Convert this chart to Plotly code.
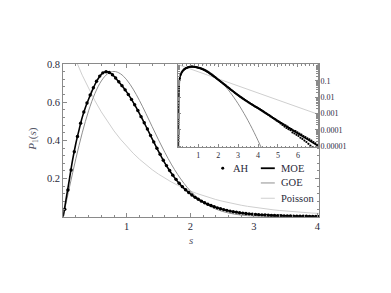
import plotly.graph_objects as go

# ---------------- data ----------------
moe_s = [0.00, 0.05, 0.10, 0.15, 0.20, 0.25, 0.30, 0.35, 0.40, 0.45, 0.50, 0.55, 0.60, 0.65,
         0.70, 0.75, 0.80, 0.85, 0.90, 0.95, 1.00, 1.05, 1.10, 1.15, 1.20, 1.25, 1.30, 1.35,
         1.40, 1.45, 1.50, 1.55, 1.60, 1.65, 1.70, 1.75, 1.80, 1.85, 1.90, 1.95, 2.00, 2.10,
         2.20, 2.30, 2.40, 2.50, 2.60, 2.70, 2.80, 2.90, 3.00, 3.20, 3.40, 3.60, 3.80, 4.00,
         4.50, 5.00, 5.50, 6.00, 6.50, 7.00]
moe_p = [0.000, 0.100, 0.200, 0.300, 0.385, 0.455, 0.520, 0.572, 0.615, 0.655, 0.692, 0.722,
         0.745, 0.757, 0.758, 0.750, 0.735, 0.716, 0.696, 0.675, 0.652, 0.627, 0.600, 0.571,
         0.540, 0.508, 0.475, 0.442, 0.408, 0.375, 0.342, 0.311, 0.281, 0.254, 0.229, 0.206,
         0.185, 0.166, 0.149, 0.134, 0.120, 0.097, 0.078, 0.062, 0.050, 0.040, 0.032, 0.0255,
         0.0205, 0.0165, 0.0135, 0.0090, 0.0062, 0.0044, 0.0031, 0.0022, 0.00088, 0.00035,
         0.000145, 0.00006, 0.000025, 0.0000105]

ah_s = [0.025, 0.075, 0.125, 0.175, 0.225, 0.275, 0.325, 0.375, 0.425, 0.475, 0.525, 0.575,
        0.625, 0.675, 0.725, 0.775, 0.825, 0.875, 0.925, 0.975, 1.025, 1.075, 1.125, 1.175,
        1.225, 1.275, 1.325, 1.375, 1.425, 1.475, 1.525, 1.575, 1.625, 1.675, 1.725, 1.775,
        1.825, 1.875, 1.925, 1.975, 2.025, 2.075, 2.125, 2.175, 2.225, 2.275, 2.325, 2.375,
        2.425, 2.475, 2.525, 2.575, 2.625, 2.675, 2.725, 2.775, 2.825, 2.875, 2.925, 2.975,
        3.025, 3.075, 3.125, 3.175, 3.225, 3.275, 3.325, 3.375, 3.425, 3.475, 3.525, 3.575,
        3.625, 3.675, 3.725, 3.775, 3.825, 3.875, 3.925, 3.975, 4.025, 4.075, 4.125, 4.175,
        4.225, 4.275, 4.325, 4.375, 4.425, 4.475, 4.525, 4.575, 4.625, 4.675, 4.725, 4.775,
        4.825, 4.875, 4.925, 4.975, 5.025, 5.075, 5.125, 5.175, 5.225, 5.275, 5.325, 5.375,
        5.425, 5.475, 5.525, 5.575, 5.625, 5.675, 5.725, 5.775, 5.825, 5.875, 5.925, 5.975,
        6.025, 6.075, 6.125, 6.175, 6.225, 6.275, 6.325, 6.375, 6.425, 6.475, 6.525, 6.575,
        6.625, 6.675, 6.725, 6.775, 6.825, 6.875, 6.925, 6.975]
ah_p = [0.04, 0.14, 0.245, 0.34, 0.42, 0.49, 0.548, 0.595, 0.637, 0.675, 0.709, 0.736,
        0.753, 0.759, 0.755, 0.743, 0.726, 0.706, 0.686, 0.664, 0.640, 0.614, 0.586, 0.556,
        0.524, 0.492, 0.459, 0.425, 0.392, 0.359, 0.327, 0.296, 0.268, 0.242, 0.218, 0.196,
        0.176, 0.158, 0.142, 0.127, 0.114, 0.102, 0.092, 0.082, 0.074, 0.066, 0.059, 0.053,
        0.047, 0.042, 0.038, 0.034, 0.030, 0.027, 0.0245, 0.0218, 0.0195, 0.0175, 0.0157, 0.0141,
        0.0127, 0.0115, 0.0104, 0.0094, 0.0085, 0.0077, 0.0070, 0.0064, 0.0058, 0.0053, 0.0048, 0.0044,
        0.0040, 0.0037, 0.0034, 0.0031, 0.0028, 0.0026, 0.0024, 0.0022, 0.00205, 0.00187, 0.0017, 0.00156,
        0.00142, 0.0013, 0.00118, 0.00108, 0.00098, 0.0009, 0.00082, 0.00075, 0.00066, 0.00063, 0.00055, 0.00052,
        0.00045, 0.00044, 0.00037, 0.00036, 0.00031, 0.00031, 0.00025, 0.00026, 0.0002, 0.00022, 0.00016, 0.00019,
        0.00013, 0.00016, 0.00011, 0.00013, 0.000095, 0.00011, 0.00007, 0.00009, 0.00006, 0.000085, 0.00005, 0.00007,
        0.000042, 0.00006, 0.000033, 0.000052, 0.000028, 0.000042, 0.000022, 0.000036, 0.000018, 0.00003, 0.000014, 0.000026,
        0.000011, 0.000022, 0.0000085, 0.000018, 0.000007, 0.000015, 0.000006, 0.000012]

goe_s = [0.0, 0.1, 0.2, 0.3, 0.4, 0.5, 0.6, 0.7, 0.8, 0.9, 1.0, 1.1, 1.2, 1.3, 1.4, 1.5,
         1.6, 1.7, 1.8, 1.9, 2.0, 2.1, 2.2, 2.3, 2.4, 2.5, 2.6, 2.7, 2.8, 2.9, 3.0, 3.1,
         3.2, 3.3, 3.4, 3.5, 3.6, 3.7, 3.8, 3.9, 4.0, 4.1, 4.2, 4.3]
goe_p = [0.0, 0.1559, 0.3044, 0.4391, 0.5541, 0.6454, 0.7104, 0.7483, 0.7602, 0.7483,
         0.7162, 0.6680, 0.6083, 0.5415, 0.4717, 0.4025, 0.3365, 0.2759, 0.2220, 0.1752,
         0.1358, 0.1033, 0.0772, 0.0567, 0.04088, 0.02899, 0.02020, 0.01383, 0.009314,
         0.006167, 0.004012, 0.002568, 0.001616, 0.001000, 0.000609, 0.0003644, 0.0002147,
         0.0001244, 0.0000709, 0.00003975, 0.00002191, 0.00001188, 0.00000635, 0.00000333]

poi_s = [0.0, 0.1, 0.2, 0.3, 0.4, 0.5, 0.6, 0.7, 0.8, 0.9, 1.0, 1.1, 1.2, 1.3, 1.4, 1.5,
         1.6, 1.7, 1.8, 1.9, 2.0, 2.1, 2.2, 2.3, 2.4, 2.5, 2.6, 2.7, 2.8, 2.9, 3.0, 3.1,
         3.2, 3.3, 3.4, 3.5, 3.6, 3.7, 3.8, 3.9, 4.0, 4.5, 5.0, 5.5, 6.0, 6.5, 7.0]
poi_p = [1.0, 0.9048, 0.8187, 0.7408, 0.6703, 0.6065, 0.5488, 0.4966, 0.4493, 0.4066,
         0.3679, 0.3329, 0.3012, 0.2725, 0.2466, 0.2231, 0.2019, 0.1827, 0.1653, 0.1496,
         0.1353, 0.1225, 0.1108, 0.1003, 0.0907, 0.0821, 0.0743, 0.0672, 0.0608, 0.0550,
         0.0498, 0.0450, 0.0408, 0.0369, 0.0334, 0.0302, 0.0273, 0.0247, 0.0224, 0.0202,
         0.0183, 0.0111, 0.00674, 0.00409, 0.00248, 0.00150, 0.000912]

main_xticks = [1, 2, 3, 4]
main_yticks = [0.2, 0.4, 0.6, 0.8]
inset_xticks = [1, 2, 3, 4, 5, 6]
inset_yticks = [0.1, 0.01, 0.001, 0.0001, 0.00001]
inset_ylabels = ["0.1", "0.01", "0.001", "0.0001", "0.00001"]
legend_names = ["AH", "MOE", "GOE", "Poisson"]

# ---------------- styling ----------------
# The page body keeps the browser's default 8px margin, so the figure is drawn
# 8px smaller and all screen positions below are given in window pixels.
OFF = 8
W, H = 391 - OFF, 293 - OFF
FONT = "Liberation Serif"
TXT = "#2a2a3a"
FRAME = "#8a8a8a"
C_MOE, C_GOE, C_POI = "black", "#8f8f8f", "#cfcfcf"

def px(x):
    return (x - OFF) / W

def py(y):
    return 1 - (y - OFF) / H

fig = go.Figure()

# main plot
fig.add_trace(go.Scatter(x=poi_s, y=poi_p, mode="lines", line=dict(color=C_POI, width=1),
                         xaxis="x", yaxis="y", showlegend=False))
fig.add_trace(go.Scatter(x=goe_s, y=goe_p, mode="lines", line=dict(color=C_GOE, width=1, shape="spline"),
                         xaxis="x", yaxis="y", showlegend=False))
fig.add_trace(go.Scatter(x=ah_s, y=ah_p, mode="markers", marker=dict(color="black", size=3.4),
                         xaxis="x", yaxis="y", showlegend=False))
fig.add_trace(go.Scatter(x=moe_s, y=moe_p, mode="lines", line=dict(color=C_MOE, width=1.6, shape="spline"),
                         xaxis="x", yaxis="y", showlegend=False))

# inset (log)
fig.add_trace(go.Scatter(x=poi_s, y=poi_p, mode="lines", line=dict(color=C_POI, width=1),
                         xaxis="x2", yaxis="y2", showlegend=False))
fig.add_trace(go.Scatter(x=goe_s, y=goe_p, mode="lines", line=dict(color=C_GOE, width=1, shape="spline"),
                         xaxis="x2", yaxis="y2", showlegend=False))
fig.add_trace(go.Scatter(x=moe_s, y=moe_p, mode="lines", line=dict(color=C_MOE, width=1.6, shape="spline"),
                         xaxis="x2", yaxis="y2", showlegend=False))
fig.add_trace(go.Scatter(x=ah_s, y=ah_p, mode="markers", marker=dict(color="black", size=2.2),
                         xaxis="x2", yaxis="y2", showlegend=False))

axis_common = dict(showgrid=False, zeroline=False, showline=True, linecolor=FRAME, linewidth=1,
                   mirror="ticks", ticks="inside", tickcolor=FRAME, ticklen=4, tickwidth=1)

minor_log = [m * 10.0 ** e for e in range(-6, 1) for m in range(2, 10)]

fig.update_layout(
    width=W, height=H,
    margin=dict(l=0, r=0, t=0, b=0),
    paper_bgcolor="white", plot_bgcolor="white",
    font=dict(family=FONT, color=TXT, size=10),
    xaxis=dict(axis_common, domain=[px(63.3), px(320.2)], range=[0, 4.03],
               tickmode="array", tickvals=main_xticks, ticktext=[str(v) for v in main_xticks],
               tickfont=dict(size=10.5, family=FONT, color=TXT),
               minor=dict(ticks="inside", ticklen=2, tickcolor=FRAME, dtick=0.2, tick0=0),
               anchor="y"),
    yaxis=dict(axis_common, domain=[py(218.5), py(60.5)], range=[0, 0.8],
               tickmode="array", tickvals=main_yticks, ticktext=["0.2", "0.4", "0.6", "0.8"],
               tickfont=dict(size=10.5, family=FONT, color=TXT),
               minor=dict(ticks="inside", ticklen=2, tickcolor=FRAME, dtick=0.04, tick0=0),
               anchor="x"),
    xaxis2=dict(axis_common, domain=[px(178.7), px(318.7)], range=[0, 7],
                tickmode="array", tickvals=inset_xticks, ticktext=[str(v) for v in inset_xticks],
                tickfont=dict(size=8, family=FONT, color=TXT), ticklen=3,
                minor=dict(ticks="inside", ticklen=1.5, tickcolor=FRAME, dtick=0.2, tick0=0),
                anchor="y2"),
    yaxis2=dict(axis_common, domain=[py(146.7), py(61)], type="log", range=[-5.07, 0.02],
                side="right", tickmode="array", tickvals=inset_yticks, ticktext=inset_ylabels,
                tickfont=dict(size=8, family=FONT, color=TXT), ticklen=3,
                minor=dict(ticks="inside", ticklen=1.5, tickcolor=FRAME, tickmode="array",
                           tickvals=minor_log),
                anchor="x2"),
)

# axis titles
ann = [
    dict(x=px(33), y=py(138), xref="paper", yref="paper", textangle=-90, showarrow=False,
         xanchor="center", yanchor="middle",
         text="<i>P</i><sub>1</sub>(<i>s</i>)", font=dict(size=11, family=FONT, color="#555566")),
    dict(x=px(191), y=py(242), xref="paper", yref="paper", showarrow=False,
         xanchor="center", yanchor="middle", borderpad=0,
         text="<i>s</i>", font=dict(size=11, family=FONT, color="#555566")),
]

# legend (manual, two columns)
rows = [168.3, 183.5, 199.3]
ann.append(dict(x=px(233), y=py(rows[0]), xref="paper", yref="paper", xanchor="left", yanchor="middle",
                showarrow=False, text=legend_names[0],
                font=dict(size=10.5, family=FONT, color=TXT), borderpad=0))
for name, r in zip(legend_names[1:], rows):
    ann.append(dict(x=px(281), y=py(r), xref="paper", yref="paper", xanchor="left", yanchor="middle",
                    showarrow=False, text=name,
                    font=dict(size=10.5, family=FONT, color=TXT), borderpad=0))
fig.update_layout(annotations=ann)

shapes = [
    dict(type="circle", xref="paper", yref="paper", x0=px(221.8), x1=px(224.8),
         y0=py(169.8), y1=py(166.8), fillcolor="black", line=dict(width=0)),
]
for col, wdt, r in zip([C_MOE, C_GOE, C_POI], [1.8, 1, 1], rows):
    shapes.append(dict(type="line", xref="paper", yref="paper", x0=px(261.5), x1=px(275.5),
                       y0=py(r), y1=py(r), line=dict(color=col, width=wdt)))
fig.update_layout(shapes=shapes)

fig.write_html("out.html")
